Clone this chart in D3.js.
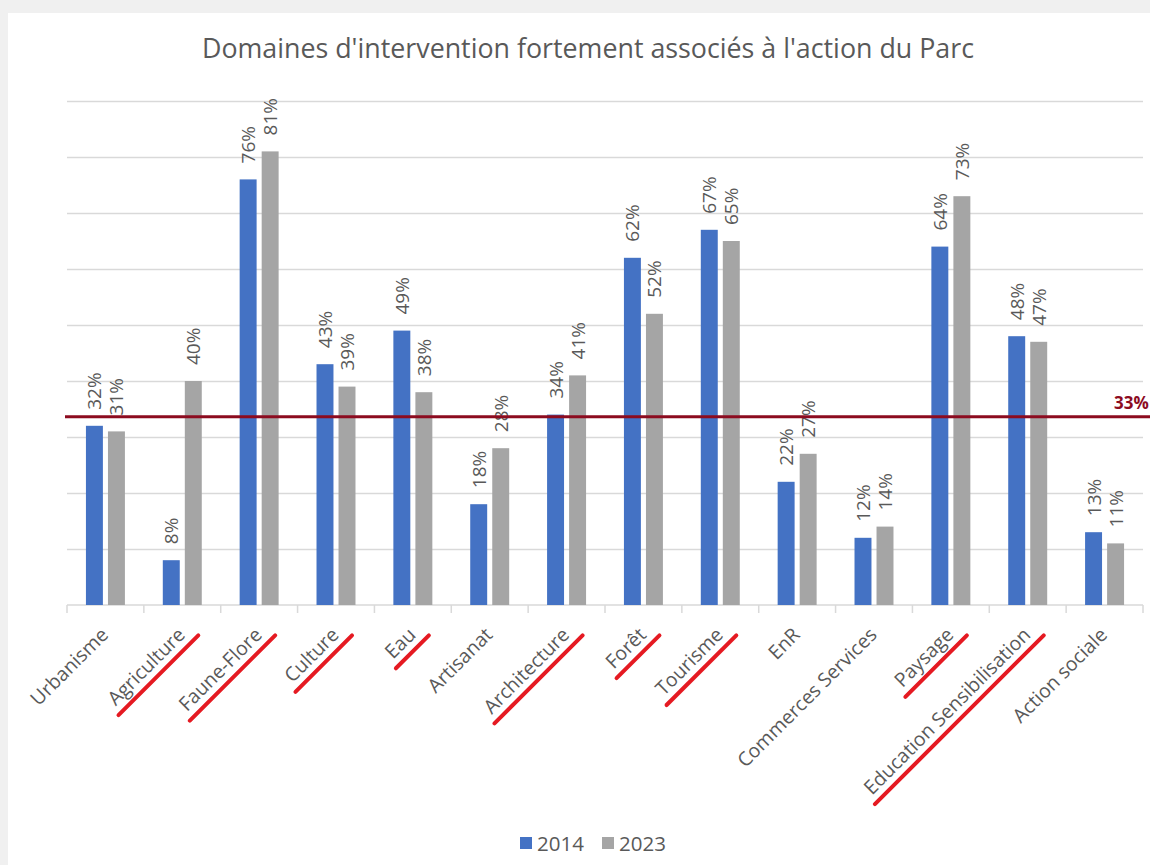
<!DOCTYPE html>
<html>
<head>
<meta charset="utf-8">
<script src="https://cdn.jsdelivr.net/npm/d3@7"></script>
<style>
  body { margin: 0; background: #f0f0f0; }
  svg { display: block; font-family: "Open Sans", "Noto Sans", sans-serif; }
</style>
</head>
<body>
<div id="chart"></div>
<script>
// data
const categories = ["Urbanisme", "Agriculture", "Faune-Flore", "Culture", "Eau", "Artisanat",
  "Architecture", "Forêt", "Tourisme", "EnR", "Commerces Services", "Paysage",
  "Education Sensibilisation", "Action sociale"];
const years = ["2014", "2023"];
const values2014 = [32, 8, 76, 43, 49, 18, 34, 62, 67, 22, 12, 64, 48, 13];
const values2023 = [31, 40, 81, 39, 38, 28, 41, 52, 65, 27, 14, 73, 47, 11];
// labels underlined by hand in red on the original
const underlined = ["Agriculture", "Faune-Flore", "Culture", "Eau", "Architecture", "Forêt",
  "Tourisme", "Paysage", "Education Sensibilisation"];
const refValue = 33.6;
const refLabel = "33%";
const gridTicks = [10, 20, 30, 40, 50, 60, 70, 80, 90];

const title = "Domaines d'intervention fortement associés à l'action du Parc";
const colors = {"2014": "#4472c4", "2023": "#a5a5a5"};
const textColor = "#595959";

const width = 1150, height = 865;
const plot = {left: 67, right: 1143, top: 101, bottom: 605};

const svg = d3.select("#chart").append("svg")
  .attr("width", width)
  .attr("height", height);

// white card
svg.append("rect")
  .attr("x", 8).attr("y", 13)
  .attr("width", width - 8).attr("height", height - 13)
  .attr("fill", "#fff");

const x0 = d3.scaleBand().domain(categories).range([plot.left, plot.right]);
const x1 = d3.scaleBand().domain(years).range([0, x0.bandwidth()])
  .paddingInner(0.23).paddingOuter(0.86);
const y = d3.scaleLinear().domain([0, 90]).range([plot.bottom, plot.top]);

// gridlines
svg.append("g")
  .attr("transform", `translate(${plot.left},0)`)
  .call(d3.axisLeft(y).tickValues(gridTicks).tickSize(-(plot.right - plot.left)).tickFormat(""))
  .call(g => g.select(".domain").remove())
  .call(g => g.selectAll(".tick line").attr("stroke", "#d9d9d9").attr("stroke-width", 1.5));

// baseline with ticks at category boundaries
const base = svg.append("g");
base.append("line")
  .attr("x1", plot.left).attr("x2", plot.right)
  .attr("y1", y(0)).attr("y2", y(0))
  .attr("stroke", "#d9d9d9").attr("stroke-width", 1.5);
base.selectAll("line.tk")
  .data(categories.map(c => x0(c)).concat([plot.right]))
  .join("line")
  .attr("class", "tk")
  .attr("x1", d => d).attr("x2", d => d)
  .attr("y1", y(0)).attr("y2", y(0) + 8)
  .attr("stroke", "#d9d9d9").attr("stroke-width", 1.5);

// bars
const rows = categories.map((c, i) => ({cat: c, vals: [
  {year: "2014", v: values2014[i]},
  {year: "2023", v: values2023[i]}
]}));

const groups = svg.append("g").selectAll("g")
  .data(rows)
  .join("g")
  .attr("transform", d => `translate(${x0(d.cat)},0)`);

groups.selectAll("rect")
  .data(d => d.vals)
  .join("rect")
  .attr("x", d => x1(d.year))
  .attr("y", d => y(d.v))
  .attr("width", x1.bandwidth())
  .attr("height", d => y(0) - y(d.v))
  .attr("fill", d => colors[d.year]);

groups.selectAll("text")
  .data(d => d.vals)
  .join("text")
  .attr("transform", d => `translate(${x1(d.year) + x1.bandwidth() / 2},${y(d.v) - 16}) rotate(-90)`)
  .attr("dominant-baseline", "central")
  .attr("font-size", 19)
  .attr("fill", textColor)
  .text(d => d.v + "%");

// reference line
svg.append("line")
  .attr("x1", 65).attr("x2", width)
  .attr("y1", y(refValue)).attr("y2", y(refValue))
  .attr("stroke", "#8c0b1f").attr("stroke-width", 3);
svg.append("text")
  .attr("x", 1114).attr("y", y(refValue) - 8)
  .attr("font-size", 17).attr("font-weight", "bold")
  .attr("fill", "#8c0b1f")
  .text(refLabel);

// category labels
const labels = svg.append("g").selectAll("g")
  .data(categories)
  .join("g")
  .attr("transform", d => `translate(${x0(d) + x0.bandwidth() / 2 + 4},636) rotate(-45)`);

labels.append("text")
  .attr("text-anchor", "end")
  .attr("font-size", 19.5)
  .attr("fill", textColor)
  .text(d => d);

labels.filter(d => underlined.includes(d))
  .each(function () {
    const g = d3.select(this);
    const len = g.select("text").node().getComputedTextLength();
    g.append("line")
      .attr("x1", -len - 4).attr("x2", 9)
      .attr("y1", 8).attr("y2", 8)
      .attr("stroke", "#e51a22").attr("stroke-width", 4)
      .attr("stroke-linecap", "round");
  });

// title
svg.append("text")
  .attr("x", 588).attr("y", 58)
  .attr("text-anchor", "middle")
  .attr("font-size", 26.8)
  .attr("fill", textColor)
  .text(title);

// legend
const legend = svg.append("g").attr("transform", "translate(520,837)");
const item = legend.selectAll("g")
  .data(years)
  .join("g")
  .attr("transform", (d, i) => `translate(${i * 82},0)`);
item.append("rect")
  .attr("width", 12).attr("height", 12)
  .attr("fill", d => colors[d]);
item.append("text")
  .attr("x", 17).attr("y", 14)
  .attr("font-size", 20.5)
  .attr("fill", textColor)
  .text(d => d);
</script>
</body>
</html>
